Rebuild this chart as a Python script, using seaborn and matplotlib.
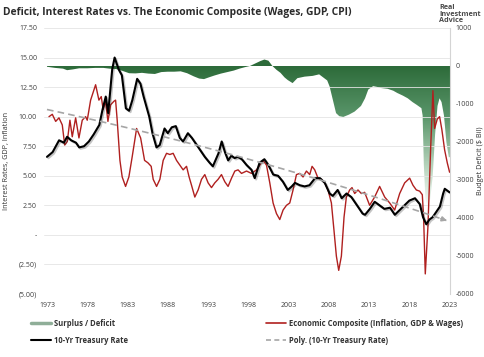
import numpy as np
import seaborn as sns
import matplotlib.pyplot as plt
import matplotlib.patheffects as pe
from matplotlib.ticker import FuncFormatter
from matplotlib.colors import LinearSegmentedColormap
from matplotlib.lines import Line2D

# 10-Yr Treasury rate (%)
rate_years = [1973.0, 1973.7, 1974.5, 1975.1, 1975.5, 1976.0, 1976.6, 1977.0, 1977.6, 1978.2,
              1978.8, 1979.5, 1979.9, 1980.3, 1980.6, 1981.1, 1981.4, 1981.9, 1982.3, 1982.8,
              1983.2, 1983.6, 1984.2, 1984.6, 1985.0, 1985.7, 1986.1, 1986.6, 1987.0, 1987.6,
              1988.0, 1988.5, 1989.0, 1989.5, 1989.9, 1990.5, 1991.0, 1991.4, 1992.0, 1992.6,
              1993.2, 1993.6, 1994.3, 1994.7, 1995.1, 1995.5, 1995.9, 1996.3, 1996.7, 1997.2,
              1997.8, 1998.4, 1998.8, 1999.4, 2000.0, 2000.5, 2001.1, 2001.7, 2002.3, 2002.9,
              2003.4, 2003.8, 2004.4, 2005.0, 2005.6, 2006.3, 2006.9, 2007.5, 2008.1, 2008.5,
              2009.1, 2009.6, 2010.2, 2010.8, 2011.6, 2012.2, 2012.5, 2013.1, 2013.7, 2014.3,
              2014.9, 2015.6, 2016.2, 2016.8, 2017.4, 2018.0, 2018.7, 2019.3, 2019.7, 2020.1,
              2020.5, 2020.9, 2021.3, 2021.8, 2022.2, 2022.4, 2022.8, 2023.0]
rate_vals = [6.6, 7.0, 8.0, 7.8, 8.3, 8.0, 7.8, 7.4, 7.5, 7.9,
             8.5, 9.3, 10.6, 11.7, 10.3, 14.0, 15.0, 14.0, 13.5, 10.7,
             10.5, 11.4, 13.2, 12.8, 11.7, 10.0, 8.6, 7.4, 7.6, 9.0,
             8.6, 9.1, 9.2, 8.2, 7.9, 8.6, 8.2, 7.8, 7.2, 6.6,
             6.1, 5.8, 6.9, 7.9, 7.0, 6.3, 6.7, 6.5, 6.6, 6.4,
             5.9, 5.5, 4.8, 6.1, 6.4, 5.9, 5.1, 5.0, 4.5, 3.8,
             4.1, 4.4, 4.2, 4.1, 4.2, 4.8, 4.8, 4.4, 3.5, 3.3,
             3.8, 3.1, 3.5, 3.2, 2.4, 1.8, 1.7, 2.2, 2.8, 2.5,
             2.2, 2.3, 1.7, 2.1, 2.5, 2.9, 3.1, 2.6, 1.5, 0.9,
             1.3, 1.5, 1.9, 2.4, 3.5, 3.9, 3.7, 3.6]

# Economic composite (inflation, GDP & wages)
comp_years = [1973.25, 1973.66, 1974.08, 1974.49, 1974.90, 1975.20, 1975.52, 1975.85, 1976.14, 1976.56,
              1976.97, 1977.38, 1977.80, 1978.00, 1978.42, 1979.04, 1979.45, 1979.74, 1979.98, 1980.28,
              1980.57, 1980.90, 1981.31, 1981.52, 1981.72, 1982.06, 1982.34, 1982.76, 1983.17, 1983.58,
              1984.13, 1984.63, 1985.12, 1985.53, 1985.94, 1986.19, 1986.61, 1987.02, 1987.43, 1987.85,
              1988.26, 1988.67, 1989.09, 1989.50, 1989.91, 1990.33, 1990.65, 1990.95, 1991.36, 1991.77,
              1992.19, 1992.60, 1993.01, 1993.43, 1993.84, 1994.25, 1994.67, 1995.08, 1995.49, 1995.92,
              1996.33, 1996.73, 1997.16, 1997.78, 1998.40, 1999.02, 1999.43, 1999.84, 2000.26, 2000.67,
              2001.08, 2001.50, 2001.91, 2002.32, 2002.74, 2003.15, 2003.56, 2003.98, 2004.39, 2004.80,
              2005.22, 2005.63, 2005.92, 2006.25, 2006.66, 2007.08, 2007.49, 2007.90, 2008.32, 2008.64,
              2008.94, 2009.23, 2009.56, 2009.89, 2010.18, 2010.59, 2010.88, 2011.21, 2011.62, 2012.04,
              2012.45, 2013.07, 2013.69, 2014.31, 2014.94, 2015.56, 2016.18, 2016.80, 2017.42, 2018.04,
              2018.45, 2018.87, 2019.28, 2019.61, 2019.77, 2019.98, 2020.31, 2020.64, 2020.93, 2021.14,
              2021.47, 2021.76, 2022.04, 2022.38, 2022.71, 2023.0]
comp_vals = [10.0, 10.2, 9.6, 9.9, 9.3, 7.6, 7.9, 9.7, 8.3, 9.9,
             8.2, 9.7, 10.0, 9.7, 11.4, 12.7, 11.4, 11.7, 10.6, 11.3,
             9.6, 11.0, 11.3, 11.4, 9.7, 6.3, 4.9, 4.1, 4.9, 6.6,
             9.0, 8.2, 6.3, 6.1, 5.8, 4.7, 4.1, 4.7, 6.3, 6.9,
             6.8, 6.9, 6.3, 5.9, 5.5, 5.8, 4.9, 4.2, 3.2, 3.8,
             4.7, 5.1, 4.4, 4.0, 4.4, 4.7, 5.1, 4.5, 4.1, 4.8,
             5.4, 5.5, 5.2, 5.4, 5.2, 5.5, 5.9, 6.3, 5.9, 4.4,
             2.7, 1.8, 1.3, 2.1, 2.5, 2.7, 3.8, 5.1, 5.2, 4.9,
             5.4, 5.1, 5.8, 5.5, 4.8, 4.7, 4.4, 3.8, 2.7, 0.4,
             -1.8, -3.0, -1.8, 1.5, 3.2, 3.8, 4.0, 3.5, 3.8, 3.5,
             3.6, 2.5, 3.2, 4.1, 3.2, 2.7, 2.1, 3.5, 4.4, 4.8,
             4.2, 3.8, 3.7, 3.4, 1.5, -3.3, 0.7, 7.2, 12.2, 9.0,
             9.8, 10.0, 8.9, 7.2, 6.1, 5.3]

# Surplus / deficit ($ Bil, rolling)
deficit_years = [1973.0, 1974.0, 1975.0, 1975.5, 1976.2, 1977.0, 1978.0, 1979.0, 1980.0, 1980.8,
                 1981.6, 1982.4, 1983.2, 1984.0, 1984.8, 1985.6, 1986.4, 1987.2, 1988.0, 1988.8,
                 1989.6, 1990.4, 1991.2, 1991.9, 1992.5, 1993.1, 1993.8, 1994.6, 1995.4, 1996.2,
                 1996.9, 1997.6, 1998.2, 1998.9, 1999.5, 2000.0, 2000.5, 2001.0, 2001.5, 2002.0,
                 2002.5, 2002.9, 2003.5, 2004.1, 2005.0, 2006.0, 2006.8, 2007.3, 2007.8, 2008.1,
                 2008.5, 2008.9, 2009.3, 2009.8, 2010.5, 2011.2, 2012.0, 2012.5, 2012.9, 2013.5,
                 2014.0, 2014.5, 2015.3, 2016.0, 2016.5, 2017.2, 2017.8, 2018.4, 2018.9, 2019.5,
                 2019.65, 2019.8, 2020.0, 2020.3, 2020.6, 2020.9, 2021.2, 2021.5, 2021.75, 2022.0,
                 2022.3, 2022.6, 2022.9, 2023.05]
deficit_vals = [-20, -50, -70, -110, -90, -60, -60, -50, -50, -70,
                -80, -130, -190, -195, -180, -200, -210, -160, -150, -150,
                -140, -190, -270, -330, -345, -300, -250, -200, -160, -120,
                -70, -30, 0, 70, 130, 170, 140, 0, -100, -180,
                -300, -370, -450, -320, -280, -260, -220, -300, -380, -540,
                -890, -1240, -1320, -1340, -1280, -1200, -1050, -850, -620, -530,
                -550, -580, -600, -650, -710, -780, -850, -950, -1020, -1110,
                -1300, -2600, -3500, -3700, -3500, -2900, -1800, -1050, -850, -950,
                -1300, -2000, -2400, -2400]

x_ticks = [1973, 1978, 1983, 1988, 1993, 1998, 2003, 2008, 2013, 2018, 2023]

sns.set_theme(style="white")
plt.rcParams['font.family'] = ['Open Sans', 'DejaVu Sans']

fig = plt.figure(figsize=(4.85, 3.57), dpi=100)
ax = fig.add_axes([44 / 485, 1 - 294 / 357, 406 / 485, 266 / 357])
ax2 = ax.twinx()
ax.set_zorder(2)
ax.patch.set_visible(False)
ax2.set_zorder(1)

# deficit area with a green-to-white gradient, clipped to the filled area
x0, x1 = 1972.63, 2023.05
poly = ax2.fill_between(deficit_years, deficit_vals, 0, color='none', lw=0)
cmap = LinearSegmentedColormap.from_list(
    'def', [(0, '#ffffff'), (0.3, '#b8d5be'), (0.65, '#5a966a'), (1, '#2d6b3a')])
grad = np.linspace(-6000, 1000, 400).reshape(-1, 1)
img = ax2.imshow(grad, extent=[x0, x1, -6000, 1000], origin='lower', aspect='auto',
                 cmap=cmap, vmin=-3800, vmax=0)
img.set_clip_path(poly.get_paths()[0], transform=ax2.transData)

# lines
sns.lineplot(x=comp_years, y=comp_vals, ax=ax, color='#b0201f', linewidth=1.0)
sns.lineplot(x=rate_years, y=rate_vals, ax=ax, color='black', linewidth=1.5,
             path_effects=[pe.SimpleLineShadow(offset=(1, -1), alpha=0.25), pe.Normal()])

# polynomial trend of the 10-yr rate
coef = np.polyfit(rate_years, rate_vals, 2)
tx = np.linspace(1973, 2022.6, 100)
ty = np.polyval(coef, tx)
ax.plot(tx, ty, color='#a6a6a6', lw=1.2, dashes=(4, 2.5))
ax.annotate('', xy=(2023.0, np.polyval(coef, 2023.0)), xytext=(tx[-3], ty[-3]),
            arrowprops=dict(arrowstyle='-|>', color='#a6a6a6', lw=1.2, mutation_scale=7))

# axes
ax.set_xlim(x0, x1)
ax2.set_xlim(x0, x1)
ax.set_ylim(-5, 17.5)
ax2.set_ylim(-6000, 1000)
ax.set_yticks(np.arange(-5, 17.6, 2.5))
ax2.set_yticks(np.arange(-6000, 1001, 1000))
ax.set_xticks(x_ticks)


def left_fmt(v, pos):
    if abs(v) < 1e-9:
        return '-'
    if v < 0:
        return f'({abs(v):.2f})'
    return f'{v:.2f}'


ax.yaxis.set_major_formatter(FuncFormatter(left_fmt))
ax2.yaxis.set_major_formatter(FuncFormatter(lambda v, p: f'{int(v)}'))
ax.tick_params(axis='both', length=0, labelsize=5, colors='#404040')
ax.tick_params(axis='y', pad=5)
ax.tick_params(axis='x', pad=6)
ax2.tick_params(axis='y', length=0, labelsize=5, colors='#404040', pad=4)
ax.yaxis.grid(True, color='#e4e4e4', lw=0.6)
ax.xaxis.grid(False)
for s in ax.spines.values():
    s.set_visible(False)
for s in ['left', 'top', 'bottom']:
    ax2.spines[s].set_visible(False)
ax2.spines['right'].set_color('#d4d4d4')
ax2.spines['right'].set_linewidth(0.8)

ax.set_ylabel('Interest Rates, GDP, Inflation', fontsize=5.2, color='#333333', labelpad=6)
fig.text(481 / 485, 1 - 161 / 357, 'Budget Deficit ($ Bil)', rotation=90, fontsize=5.2,
         color='#333333', ha='center', va='center')

# title and logo
fig.text(3 / 485, 1 - 13 / 357, 'Deficit, Interest Rates vs. The Economic Composite (Wages, GDP, CPI)',
         fontsize=7.4, fontweight='bold', color='#2b2b2b', va='center', ha='left')
fig.text(439 / 485, 1 - 4 / 357, 'Real\nInvestment\nAdvice', fontsize=5.2, fontweight='bold',
         color='#4a4a4a', va='top', ha='left', linespacing=0.95)

# legend
h_def = Line2D([], [], color='#8fae98', lw=2.5)
h_rate = Line2D([], [], color='black', lw=1.5)
h_comp = Line2D([], [], color='#b0201f', lw=1.2)
h_poly = Line2D([], [], color='#a6a6a6', lw=1.2, dashes=(3, 2))
leg_kw = dict(frameon=False, handlelength=2.6, handletextpad=0.4,
              labelspacing=1.0, prop={'weight': 'bold', 'size': 5.5})
fig.legend([h_def, h_rate], ['Surplus / Deficit', '10-Yr Treasury Rate'],
           loc='upper left', bbox_to_anchor=(24 / 485, 1 - 312 / 357), **leg_kw)
fig.legend([h_comp, h_poly], ['Economic Composite (Inflation, GDP & Wages)', 'Poly. (10-Yr Treasury Rate)'],
           loc='upper left', bbox_to_anchor=(259 / 485, 1 - 312 / 357), **leg_kw)
for t in fig.legends[0].get_texts() + fig.legends[1].get_texts():
    t.set_color('#333333')

fig.savefig('out.png', dpi=100)
